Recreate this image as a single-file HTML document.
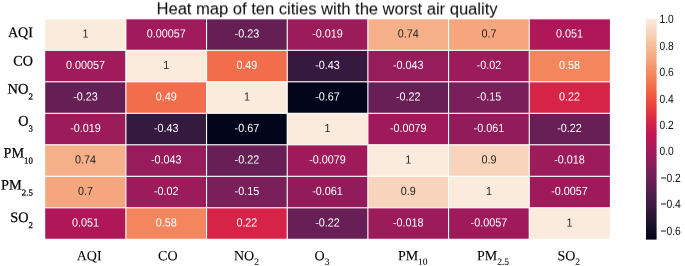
<!DOCTYPE html><html><head><meta charset="utf-8"><style>html,body{margin:0;padding:0;background:#fff}svg{display:block}text{font-family:"Liberation Sans",sans-serif}.s{font-family:"Liberation Serif",serif;fill:#000;stroke:#000;stroke-width:.25px}.x{stroke-width:.08px}</style></head><body>
<svg width="685" height="266" viewBox="0 0 685 266">
<rect width="685" height="266" fill="#fff"/>
<defs><linearGradient id="g" x1="0" y1="0" x2="0" y2="1">
<stop offset="0.00%" stop-color="#faebdd"/>
<stop offset="3.12%" stop-color="#f9e0cd"/>
<stop offset="6.25%" stop-color="#f8d4bc"/>
<stop offset="9.38%" stop-color="#f7c9aa"/>
<stop offset="12.50%" stop-color="#f6bc99"/>
<stop offset="15.62%" stop-color="#f6b089"/>
<stop offset="18.75%" stop-color="#f6a37a"/>
<stop offset="21.88%" stop-color="#f5966c"/>
<stop offset="25.00%" stop-color="#f58860"/>
<stop offset="28.12%" stop-color="#f47a54"/>
<stop offset="31.25%" stop-color="#f26b49"/>
<stop offset="34.38%" stop-color="#f05c42"/>
<stop offset="37.50%" stop-color="#ec4c3e"/>
<stop offset="40.62%" stop-color="#e73d3f"/>
<stop offset="43.75%" stop-color="#df2f44"/>
<stop offset="46.88%" stop-color="#d62449"/>
<stop offset="50.00%" stop-color="#cb1b4f"/>
<stop offset="53.12%" stop-color="#bf1654"/>
<stop offset="56.25%" stop-color="#b21758"/>
<stop offset="59.38%" stop-color="#a4195b"/>
<stop offset="62.50%" stop-color="#971c5b"/>
<stop offset="65.62%" stop-color="#891e5b"/>
<stop offset="68.75%" stop-color="#7b1f59"/>
<stop offset="71.88%" stop-color="#6e1f57"/>
<stop offset="75.00%" stop-color="#611f53"/>
<stop offset="78.12%" stop-color="#541e4e"/>
<stop offset="81.25%" stop-color="#481c48"/>
<stop offset="84.38%" stop-color="#3c1a42"/>
<stop offset="87.50%" stop-color="#30173a"/>
<stop offset="90.62%" stop-color="#241432"/>
<stop offset="93.75%" stop-color="#180f29"/>
<stop offset="96.88%" stop-color="#0d0a21"/>
<stop offset="100.00%" stop-color="#03051a"/>
</linearGradient></defs>
<rect x="45.20" y="18.80" width="80.67" height="31.50" fill="#faebdd"/>
<rect x="125.87" y="18.80" width="80.67" height="31.50" fill="#a11a5b"/>
<rect x="206.54" y="18.80" width="80.67" height="31.50" fill="#661f54"/>
<rect x="287.21" y="18.80" width="80.67" height="31.50" fill="#9c1b5b"/>
<rect x="367.89" y="18.80" width="80.67" height="31.50" fill="#f6b089"/>
<rect x="448.56" y="18.80" width="80.67" height="31.50" fill="#f6a67e"/>
<rect x="529.23" y="18.80" width="80.67" height="31.50" fill="#af1759"/>
<rect x="45.20" y="50.30" width="80.67" height="31.50" fill="#a11a5b"/>
<rect x="125.87" y="50.30" width="80.67" height="31.50" fill="#faebdd"/>
<rect x="206.54" y="50.30" width="80.67" height="31.50" fill="#f26d4b"/>
<rect x="287.21" y="50.30" width="80.67" height="31.50" fill="#35193e"/>
<rect x="367.89" y="50.30" width="80.67" height="31.50" fill="#971c5b"/>
<rect x="448.56" y="50.30" width="80.67" height="31.50" fill="#9c1b5b"/>
<rect x="529.23" y="50.30" width="80.67" height="31.50" fill="#f4865e"/>
<rect x="45.20" y="81.80" width="80.67" height="31.50" fill="#661f54"/>
<rect x="125.87" y="81.80" width="80.67" height="31.50" fill="#f26d4b"/>
<rect x="206.54" y="81.80" width="80.67" height="31.50" fill="#faebdd"/>
<rect x="287.21" y="81.80" width="80.67" height="31.50" fill="#03051a"/>
<rect x="367.89" y="81.80" width="80.67" height="31.50" fill="#681f55"/>
<rect x="448.56" y="81.80" width="80.67" height="31.50" fill="#7a1f59"/>
<rect x="529.23" y="81.80" width="80.67" height="31.50" fill="#d62449"/>
<rect x="45.20" y="113.30" width="80.67" height="31.50" fill="#9c1b5b"/>
<rect x="125.87" y="113.30" width="80.67" height="31.50" fill="#35193e"/>
<rect x="206.54" y="113.30" width="80.67" height="31.50" fill="#03051a"/>
<rect x="287.21" y="113.30" width="80.67" height="31.50" fill="#faebdd"/>
<rect x="367.89" y="113.30" width="80.67" height="31.50" fill="#9f1a5b"/>
<rect x="448.56" y="113.30" width="80.67" height="31.50" fill="#921c5b"/>
<rect x="529.23" y="113.30" width="80.67" height="31.50" fill="#681f55"/>
<rect x="45.20" y="144.80" width="80.67" height="31.50" fill="#f6b089"/>
<rect x="125.87" y="144.80" width="80.67" height="31.50" fill="#971c5b"/>
<rect x="206.54" y="144.80" width="80.67" height="31.50" fill="#681f55"/>
<rect x="287.21" y="144.80" width="80.67" height="31.50" fill="#9f1a5b"/>
<rect x="367.89" y="144.80" width="80.67" height="31.50" fill="#faebdd"/>
<rect x="448.56" y="144.80" width="80.67" height="31.50" fill="#f8d4bc"/>
<rect x="529.23" y="144.80" width="80.67" height="31.50" fill="#9c1b5b"/>
<rect x="45.20" y="176.30" width="80.67" height="31.50" fill="#f6a67e"/>
<rect x="125.87" y="176.30" width="80.67" height="31.50" fill="#9c1b5b"/>
<rect x="206.54" y="176.30" width="80.67" height="31.50" fill="#7a1f59"/>
<rect x="287.21" y="176.30" width="80.67" height="31.50" fill="#921c5b"/>
<rect x="367.89" y="176.30" width="80.67" height="31.50" fill="#f8d4bc"/>
<rect x="448.56" y="176.30" width="80.67" height="31.50" fill="#faebdd"/>
<rect x="529.23" y="176.30" width="80.67" height="31.50" fill="#9f1a5b"/>
<rect x="45.20" y="207.80" width="80.67" height="31.50" fill="#af1759"/>
<rect x="125.87" y="207.80" width="80.67" height="31.50" fill="#f4865e"/>
<rect x="206.54" y="207.80" width="80.67" height="31.50" fill="#d62449"/>
<rect x="287.21" y="207.80" width="80.67" height="31.50" fill="#681f55"/>
<rect x="367.89" y="207.80" width="80.67" height="31.50" fill="#9c1b5b"/>
<rect x="448.56" y="207.80" width="80.67" height="31.50" fill="#9f1a5b"/>
<rect x="529.23" y="207.80" width="80.67" height="31.50" fill="#faebdd"/>
<rect x="125.32" y="17.80" width="1.1" height="222.50" fill="#fff"/>
<rect x="205.99" y="17.80" width="1.1" height="222.50" fill="#fff"/>
<rect x="286.66" y="17.80" width="1.1" height="222.50" fill="#fff"/>
<rect x="367.34" y="17.80" width="1.1" height="222.50" fill="#fff"/>
<rect x="448.01" y="17.80" width="1.1" height="222.50" fill="#fff"/>
<rect x="528.68" y="17.80" width="1.1" height="222.50" fill="#fff"/>
<rect x="44.20" y="18.25" width="566.70" height="1.1" fill="#fff"/>
<rect x="44.20" y="49.75" width="566.70" height="1.1" fill="#fff"/>
<rect x="44.20" y="81.25" width="566.70" height="1.1" fill="#fff"/>
<rect x="44.20" y="112.75" width="566.70" height="1.1" fill="#fff"/>
<rect x="44.20" y="144.25" width="566.70" height="1.1" fill="#fff"/>
<rect x="44.20" y="175.75" width="566.70" height="1.1" fill="#fff"/>
<rect x="44.20" y="207.25" width="566.70" height="1.1" fill="#fff"/>
<rect x="44.20" y="238.75" width="566.70" height="1.1" fill="#fff"/>
<rect x="646.0" y="18.8" width="10.60" height="220.80" fill="url(#g)"/>
<g opacity="0.999">
<text transform="translate(327.10,14.45) rotate(0.03)" font-size="15.8" text-anchor="middle" textLength="341" lengthAdjust="spacingAndGlyphs" fill="#000">Heat map of ten cities with the worst air quality</text>
<text transform="translate(85.54,37.40) rotate(0.03) scale(0.915,1)" font-size="11.8" text-anchor="middle" fill="#262626">1</text>
<text transform="translate(166.21,37.40) rotate(0.03) scale(0.915,1)" font-size="11.8" text-anchor="middle" fill="#fff">0.00057</text>
<text transform="translate(246.88,37.40) rotate(0.03) scale(0.915,1)" font-size="11.8" text-anchor="middle" fill="#fff">-0.23</text>
<text transform="translate(327.55,37.40) rotate(0.03) scale(0.915,1)" font-size="11.8" text-anchor="middle" fill="#fff">-0.019</text>
<text transform="translate(408.22,37.40) rotate(0.03) scale(0.915,1)" font-size="11.8" text-anchor="middle" fill="#262626">0.74</text>
<text transform="translate(488.89,37.40) rotate(0.03) scale(0.915,1)" font-size="11.8" text-anchor="middle" fill="#262626">0.7</text>
<text transform="translate(569.56,37.40) rotate(0.03) scale(0.915,1)" font-size="11.8" text-anchor="middle" fill="#fff">0.051</text>
<text transform="translate(85.54,68.90) rotate(0.03) scale(0.915,1)" font-size="11.8" text-anchor="middle" fill="#fff">0.00057</text>
<text transform="translate(166.21,68.90) rotate(0.03) scale(0.915,1)" font-size="11.8" text-anchor="middle" fill="#262626">1</text>
<text transform="translate(246.88,68.90) rotate(0.03) scale(0.915,1)" font-size="11.8" text-anchor="middle" fill="#fff">0.49</text>
<text transform="translate(327.55,68.90) rotate(0.03) scale(0.915,1)" font-size="11.8" text-anchor="middle" fill="#fff">-0.43</text>
<text transform="translate(408.22,68.90) rotate(0.03) scale(0.915,1)" font-size="11.8" text-anchor="middle" fill="#fff">-0.043</text>
<text transform="translate(488.89,68.90) rotate(0.03) scale(0.915,1)" font-size="11.8" text-anchor="middle" fill="#fff">-0.02</text>
<text transform="translate(569.56,68.90) rotate(0.03) scale(0.915,1)" font-size="11.8" text-anchor="middle" fill="#fff">0.58</text>
<text transform="translate(85.54,100.40) rotate(0.03) scale(0.915,1)" font-size="11.8" text-anchor="middle" fill="#fff">-0.23</text>
<text transform="translate(166.21,100.40) rotate(0.03) scale(0.915,1)" font-size="11.8" text-anchor="middle" fill="#fff">0.49</text>
<text transform="translate(246.88,100.40) rotate(0.03) scale(0.915,1)" font-size="11.8" text-anchor="middle" fill="#262626">1</text>
<text transform="translate(327.55,100.40) rotate(0.03) scale(0.915,1)" font-size="11.8" text-anchor="middle" fill="#fff">-0.67</text>
<text transform="translate(408.22,100.40) rotate(0.03) scale(0.915,1)" font-size="11.8" text-anchor="middle" fill="#fff">-0.22</text>
<text transform="translate(488.89,100.40) rotate(0.03) scale(0.915,1)" font-size="11.8" text-anchor="middle" fill="#fff">-0.15</text>
<text transform="translate(569.56,100.40) rotate(0.03) scale(0.915,1)" font-size="11.8" text-anchor="middle" fill="#fff">0.22</text>
<text transform="translate(85.54,131.90) rotate(0.03) scale(0.915,1)" font-size="11.8" text-anchor="middle" fill="#fff">-0.019</text>
<text transform="translate(166.21,131.90) rotate(0.03) scale(0.915,1)" font-size="11.8" text-anchor="middle" fill="#fff">-0.43</text>
<text transform="translate(246.88,131.90) rotate(0.03) scale(0.915,1)" font-size="11.8" text-anchor="middle" fill="#fff">-0.67</text>
<text transform="translate(327.55,131.90) rotate(0.03) scale(0.915,1)" font-size="11.8" text-anchor="middle" fill="#262626">1</text>
<text transform="translate(408.22,131.90) rotate(0.03) scale(0.915,1)" font-size="11.8" text-anchor="middle" fill="#fff">-0.0079</text>
<text transform="translate(488.89,131.90) rotate(0.03) scale(0.915,1)" font-size="11.8" text-anchor="middle" fill="#fff">-0.061</text>
<text transform="translate(569.56,131.90) rotate(0.03) scale(0.915,1)" font-size="11.8" text-anchor="middle" fill="#fff">-0.22</text>
<text transform="translate(85.54,163.40) rotate(0.03) scale(0.915,1)" font-size="11.8" text-anchor="middle" fill="#262626">0.74</text>
<text transform="translate(166.21,163.40) rotate(0.03) scale(0.915,1)" font-size="11.8" text-anchor="middle" fill="#fff">-0.043</text>
<text transform="translate(246.88,163.40) rotate(0.03) scale(0.915,1)" font-size="11.8" text-anchor="middle" fill="#fff">-0.22</text>
<text transform="translate(327.55,163.40) rotate(0.03) scale(0.915,1)" font-size="11.8" text-anchor="middle" fill="#fff">-0.0079</text>
<text transform="translate(408.22,163.40) rotate(0.03) scale(0.915,1)" font-size="11.8" text-anchor="middle" fill="#262626">1</text>
<text transform="translate(488.89,163.40) rotate(0.03) scale(0.915,1)" font-size="11.8" text-anchor="middle" fill="#262626">0.9</text>
<text transform="translate(569.56,163.40) rotate(0.03) scale(0.915,1)" font-size="11.8" text-anchor="middle" fill="#fff">-0.018</text>
<text transform="translate(85.54,194.90) rotate(0.03) scale(0.915,1)" font-size="11.8" text-anchor="middle" fill="#262626">0.7</text>
<text transform="translate(166.21,194.90) rotate(0.03) scale(0.915,1)" font-size="11.8" text-anchor="middle" fill="#fff">-0.02</text>
<text transform="translate(246.88,194.90) rotate(0.03) scale(0.915,1)" font-size="11.8" text-anchor="middle" fill="#fff">-0.15</text>
<text transform="translate(327.55,194.90) rotate(0.03) scale(0.915,1)" font-size="11.8" text-anchor="middle" fill="#fff">-0.061</text>
<text transform="translate(408.22,194.90) rotate(0.03) scale(0.915,1)" font-size="11.8" text-anchor="middle" fill="#262626">0.9</text>
<text transform="translate(488.89,194.90) rotate(0.03) scale(0.915,1)" font-size="11.8" text-anchor="middle" fill="#262626">1</text>
<text transform="translate(569.56,194.90) rotate(0.03) scale(0.915,1)" font-size="11.8" text-anchor="middle" fill="#fff">-0.0057</text>
<text transform="translate(85.54,226.40) rotate(0.03) scale(0.915,1)" font-size="11.8" text-anchor="middle" fill="#fff">0.051</text>
<text transform="translate(166.21,226.40) rotate(0.03) scale(0.915,1)" font-size="11.8" text-anchor="middle" fill="#fff">0.58</text>
<text transform="translate(246.88,226.40) rotate(0.03) scale(0.915,1)" font-size="11.8" text-anchor="middle" fill="#fff">0.22</text>
<text transform="translate(327.55,226.40) rotate(0.03) scale(0.915,1)" font-size="11.8" text-anchor="middle" fill="#fff">-0.22</text>
<text transform="translate(408.22,226.40) rotate(0.03) scale(0.915,1)" font-size="11.8" text-anchor="middle" fill="#fff">-0.018</text>
<text transform="translate(488.89,226.40) rotate(0.03) scale(0.915,1)" font-size="11.8" text-anchor="middle" fill="#fff">-0.0057</text>
<text transform="translate(569.56,226.40) rotate(0.03) scale(0.915,1)" font-size="11.8" text-anchor="middle" fill="#262626">1</text>
<text transform="translate(659.50,23.25) rotate(0.03) scale(0.855,1)" font-size="12" fill="#111">1.0</text>
<text transform="translate(659.50,49.69) rotate(0.03) scale(0.855,1)" font-size="12" fill="#111">0.8</text>
<text transform="translate(659.50,76.14) rotate(0.03) scale(0.855,1)" font-size="12" fill="#111">0.6</text>
<text transform="translate(659.50,102.58) rotate(0.03) scale(0.855,1)" font-size="12" fill="#111">0.4</text>
<text transform="translate(659.50,129.02) rotate(0.03) scale(0.855,1)" font-size="12" fill="#111">0.2</text>
<text transform="translate(659.50,155.47) rotate(0.03) scale(0.855,1)" font-size="12" fill="#111">0.0</text>
<text transform="translate(660.40,181.91) rotate(0.03) scale(0.865,1)" font-size="12" fill="#111">−0.2</text>
<text transform="translate(660.40,208.35) rotate(0.03) scale(0.865,1)" font-size="12" fill="#111">−0.4</text>
<text transform="translate(660.40,234.79) rotate(0.03) scale(0.865,1)" font-size="12" fill="#111">−0.6</text>
<text class="s" transform="translate(32.90,36.90) rotate(0.03) scale(0.97,1)" font-size="14.5" text-anchor="end">AQI</text>
<text class="s" transform="translate(32.90,65.45) rotate(0.03) scale(0.975,1)" font-size="14.5" text-anchor="end">CO</text>
<text class="s" transform="translate(32.90,93.40) rotate(0.03)" font-size="14.5" text-anchor="end">NO<tspan font-size="9" dy="6">2</tspan></text>
<text class="s" transform="translate(32.90,125.50) rotate(0.03) scale(0.98,1)" font-size="14.5" text-anchor="end">O<tspan font-size="9" dy="6">3</tspan></text>
<text class="s" transform="translate(32.90,157.45) rotate(0.03) scale(0.978,1)" font-size="14.5" text-anchor="end">PM<tspan font-size="9" dy="6">10</tspan></text>
<text class="s" transform="translate(32.90,189.40) rotate(0.03) scale(0.99,1)" font-size="14.5" text-anchor="end">PM<tspan font-size="9" dy="6">2.5</tspan></text>
<text class="s" transform="translate(32.90,222.05) rotate(0.03) scale(0.986,1)" font-size="14.5" text-anchor="end">SO<tspan font-size="9" dy="6">2</tspan></text>
<text class="s x" transform="translate(76.70,260.20) rotate(0.03)" font-size="14">AQI</text>
<text class="s x" transform="translate(158.10,260.20) rotate(0.03)" font-size="14">CO</text>
<text class="s x" transform="translate(233.93,260.20) rotate(0.03)" font-size="14">NO<tspan font-size="9.5" dy="4.5">2</tspan></text>
<text class="s x" transform="translate(314.62,260.20) rotate(0.03)" font-size="14">O<tspan font-size="9.5" dy="4.5">3</tspan></text>
<text class="s x" transform="translate(397.88,260.20) rotate(0.03)" font-size="14">PM<tspan font-size="9.5" dy="4.5">10</tspan></text>
<text class="s x" transform="translate(476.98,260.20) rotate(0.03)" font-size="14">PM<tspan font-size="9.5" dy="4.5">2.5</tspan></text>
<text class="s x" transform="translate(557.40,260.20) rotate(0.03)" font-size="14">SO<tspan font-size="9.5" dy="4.5">2</tspan></text>
</g>
</svg></body></html>
